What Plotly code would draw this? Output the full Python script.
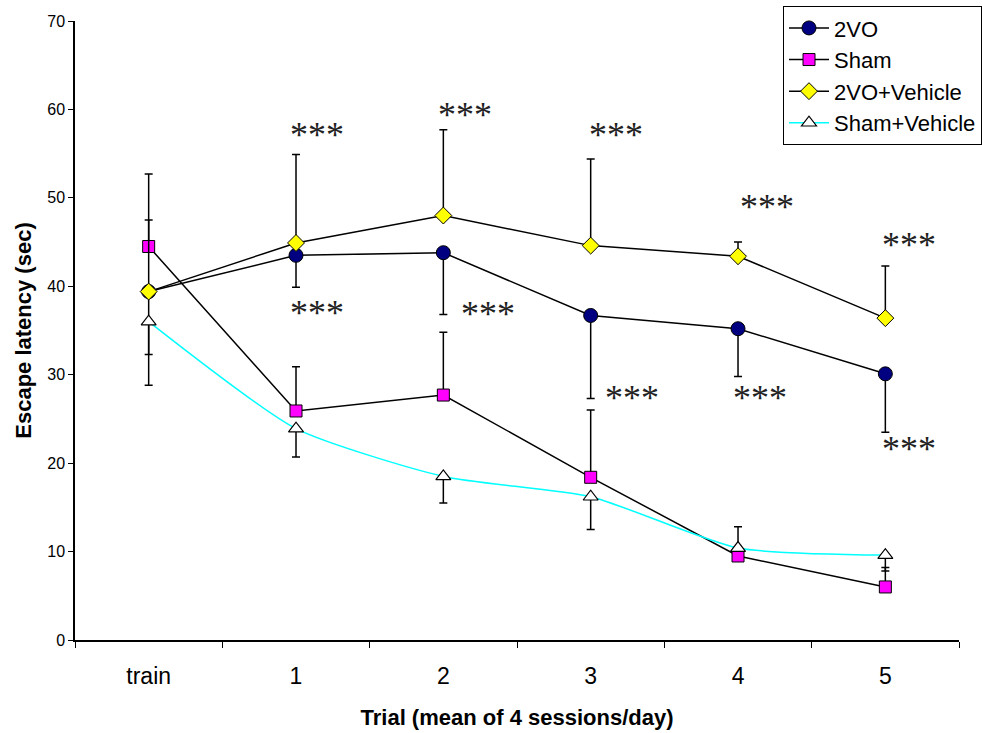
import plotly.graph_objects as go

# Escape latency per trial day (mean of 4 sessions/day)
trials = ["train", "1", "2", "3", "4", "5"]

vo2_mean = [39.4, 43.5, 43.8, 36.7, 35.2, 30.1]
vo2_err_minus = [10.6, 3.6, 7.0, 9.4, 5.4, 6.6]

sham_mean = [44.5, 25.9, 27.7, 18.4, 9.5, 6.0]
sham_err_plus = [8.2, 5.0, 7.1, 7.6, 3.3, 2.2]

vo2_veh_mean = [39.4, 44.9, 48.0, 44.6, 43.4, 36.4]
vo2_veh_err_plus = [8.1, 10.0, 9.7, 9.8, 1.6, 5.9]

sham_veh_mean = [36.0, 23.9, 18.5, 16.2, 10.4, 9.6]
sham_veh_err_minus = [3.7, 3.2, 3.0, 3.7, 0.0, 1.8]

# significance marks: (x position in category units, y value)
sig_upper = [(1.14, 57.5), (2.15, 59.7), (3.17, 57.5), (4.2, 49.3), (5.16, 45.0)]
sig_lower = [(1.14, 37.3), (2.3, 37.2), (3.28, 27.7), (4.15, 27.7), (5.16, 21.9)]
sig_text = "***"

fig = go.Figure()

def err(plus=None, minus=None, n=6):
    return dict(
        type="data", symmetric=False,
        array=plus if plus is not None else [0] * n,
        arrayminus=minus if minus is not None else [0] * n,
        color="black", thickness=1.5, width=4,
    )

fig.add_trace(go.Scatter(
    x=trials, y=vo2_mean, name="2VO", mode="lines+markers",
    line=dict(color="black", width=1.5),
    marker=dict(symbol="circle", size=14, color="#000080", line=dict(color="black", width=1)),
    error_y=err(minus=vo2_err_minus),
))
fig.add_trace(go.Scatter(
    x=trials, y=sham_mean, name="Sham", mode="lines+markers",
    line=dict(color="black", width=1.5),
    marker=dict(symbol="square", size=12, color="#FF00FF", line=dict(color="black", width=1)),
    error_y=err(plus=sham_err_plus),
))
fig.add_trace(go.Scatter(
    x=trials, y=vo2_veh_mean, name="2VO+Vehicle", mode="lines+markers",
    line=dict(color="black", width=1.5),
    marker=dict(symbol="diamond", size=13, color="#FFFF00", line=dict(color="black", width=1)),
    error_y=err(plus=vo2_veh_err_plus),
))
fig.add_trace(go.Scatter(
    x=trials, y=sham_veh_mean, name="Sham+Vehicle", mode="lines+markers",
    line=dict(color="#00FFFF", width=1.5, shape="spline", smoothing=0.6),
    marker=dict(symbol="triangle-up", size=13, color="white", line=dict(color="black", width=1.2)),
    error_y=err(minus=sham_veh_err_minus),
))

for x, y in sig_upper + sig_lower:
    fig.add_annotation(
        x=x, y=y, text=sig_text, showarrow=False, xref="x", yref="y",
        font=dict(family="Liberation Serif", size=36, color="#222222"),
        yshift=-3,
    )

fig.update_layout(
    width=982, height=733,
    margin=dict(l=75, r=0, t=21, b=93),
    paper_bgcolor="white", plot_bgcolor="white",
    font=dict(family="Liberation Sans, Arial", color="black"),
    showlegend=True,
    legend=dict(
        x=0.7817, y=1.024, xanchor="left", yanchor="top",
        bordercolor="black", borderwidth=1, bgcolor="white",
        font=dict(size=22, family="Liberation Sans, Arial"),
        itemwidth=40, tracegroupgap=0,
    ),
    xaxis=dict(
        type="category", range=[-0.5, 5.5], domain=[0, 0.97574],
        showline=True, linecolor="black", linewidth=1.5,
        ticks="outside", tickson="boundaries", ticklen=6, tickcolor="black",
        ticklabelstandoff=15,
        tickfont=dict(size=23), showgrid=False, zeroline=False,
        title=dict(text="<b>Trial (mean of 4 sessions/day)</b>", font=dict(size=22), standoff=21),
    ),
    yaxis=dict(
        range=[0, 70], dtick=10,
        showline=True, linecolor="black", linewidth=1.5,
        ticks="outside", ticklen=5, tickcolor="black",
        tickfont=dict(size=16), showgrid=False, zeroline=False,
        title=dict(text="<b>Escape latency (sec)</b>", font=dict(size=22), standoff=10),
    ),
)

fig.write_html("out.html")
